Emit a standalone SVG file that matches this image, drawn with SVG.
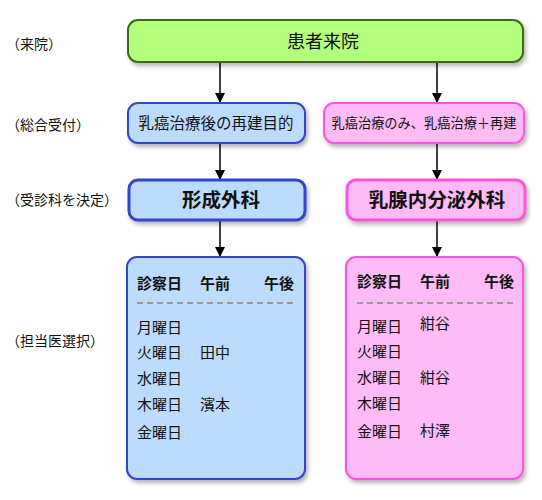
<svg xmlns="http://www.w3.org/2000/svg" width="542" height="500" viewBox="0 0 542 500">
<style>
text{font-family:"Noto Sans CJK JP","Noto Sans CJK SC",sans-serif;fill:#111}
.lbl{font-size:14px}
.g{fill:#b3ff7d;stroke:#3d6b14;stroke-width:2}
.b{fill:#bbdcfc;stroke:#3344cc;stroke-width:2}
.p{fill:#ffbbf6;stroke:#ff55dd;stroke-width:2}
.thick{stroke-width:3}
.t{font-size:15px}
.hd{font-size:15px;font-weight:bold}
.h{font-size:19.5px;font-weight:bold}
.c{text-anchor:middle}
.ln{stroke:#000;stroke-width:1.5;fill:none}
.dash{stroke:#999;stroke-width:2;stroke-dasharray:6 4}
</style>
<defs>
<filter id="sh" x="-10%" y="-10%" width="130%" height="140%">
<feGaussianBlur in="SourceAlpha" stdDeviation="2"/>
<feOffset dx="2" dy="3"/>
<feComponentTransfer><feFuncA type="linear" slope="0.3"/></feComponentTransfer>
<feMerge><feMergeNode/><feMergeNode in="SourceGraphic"/></feMerge>
</filter>
<marker id="ar" markerWidth="10" markerHeight="10" refX="9" refY="5" orient="auto" markerUnits="userSpaceOnUse">
<path d="M0,0 L10,5 L0,10 z" fill="#000"/>
</marker>
</defs>
<g id="labels">
<text class="lbl" x="6" y="49">（来院）</text>
<text class="lbl" x="6" y="130">（総合受付）</text>
<text class="lbl" x="6" y="205">（受診科を決定）</text>
<text class="lbl" x="6" y="346">（担当医選択）</text>
</g>
<g id="connectors">
<line class="ln" x1="220" y1="62" x2="220" y2="102" marker-end="url(#ar)"/>
<line class="ln" x1="437" y1="62" x2="437" y2="102" marker-end="url(#ar)"/>
<line class="ln" x1="220" y1="143" x2="220" y2="179" marker-end="url(#ar)"/>
<line class="ln" x1="437" y1="143" x2="437" y2="179" marker-end="url(#ar)"/>
<line class="ln" x1="220" y1="221" x2="220" y2="256" marker-end="url(#ar)"/>
<line class="ln" x1="437" y1="221" x2="437" y2="256" marker-end="url(#ar)"/>
</g>
<g id="n-raiin">
<rect class="g" x="128" y="20" width="395" height="42" rx="10" filter="url(#sh)"/>
<text class="c" x="323" y="48" style="font-size:18px">患者来院</text>
</g>
<g id="n-uketsuke-l">
<rect class="b" x="128" y="103" width="177" height="40" rx="10" filter="url(#sh)"/>
<text class="c" x="216" y="129" style="font-size:15.5px">乳癌治療後の再建目的</text>
</g>
<g id="n-uketsuke-r">
<rect class="p" x="324" y="103" width="200" height="40" rx="10" filter="url(#sh)"/>
<text class="c" x="424" y="128" style="font-size:13.5px" textLength="185" lengthAdjust="spacingAndGlyphs">乳癌治療のみ、乳癌治療＋再建</text>
</g>
<g id="n-keisei">
<rect class="b thick" x="129" y="180" width="176" height="40" rx="9" filter="url(#sh)"/>
<text class="h c" x="221" y="207">形成外科</text>
</g>
<g id="n-nyusen">
<rect class="p thick" x="347" y="180" width="178" height="40" rx="9" filter="url(#sh)"/>
<text class="h c" x="437" y="207">乳腺内分泌外科</text>
</g>
<g id="n-table-l">
<rect class="b" x="127" y="257" width="178" height="222" rx="10" filter="url(#sh)"/>
<text class="hd" x="137" y="289">診察日</text>
<text class="hd" x="200" y="289">午前</text>
<text class="hd" x="264" y="289">午後</text>
<line class="dash" x1="137" y1="303" x2="297" y2="303"/>
<text class="t" x="137" y="333">月曜日</text>
<text class="t" x="137" y="358">火曜日</text>
<text class="t" x="200" y="358">田中</text>
<text class="t" x="137" y="384">水曜日</text>
<text class="t" x="137" y="410">木曜日</text>
<text class="t" x="200" y="410">濱本</text>
<text class="t" x="137" y="438">金曜日</text>
</g>
<g id="n-table-r">
<rect class="p" x="346" y="257" width="177" height="222" rx="10" filter="url(#sh)"/>
<text class="hd" x="357" y="287">診察日</text>
<text class="hd" x="420" y="287">午前</text>
<text class="hd" x="484" y="287">午後</text>
<line class="dash" x1="357" y1="303" x2="517" y2="303"/>
<text class="t" x="357" y="332">月曜日</text>
<text class="t" x="420" y="329">紺谷</text>
<text class="t" x="357" y="357">火曜日</text>
<text class="t" x="357" y="383">水曜日</text>
<text class="t" x="420" y="383">紺谷</text>
<text class="t" x="357" y="409">木曜日</text>
<text class="t" x="357" y="437">金曜日</text>
<text class="t" x="420" y="436">村澤</text>
</g>
</svg>
